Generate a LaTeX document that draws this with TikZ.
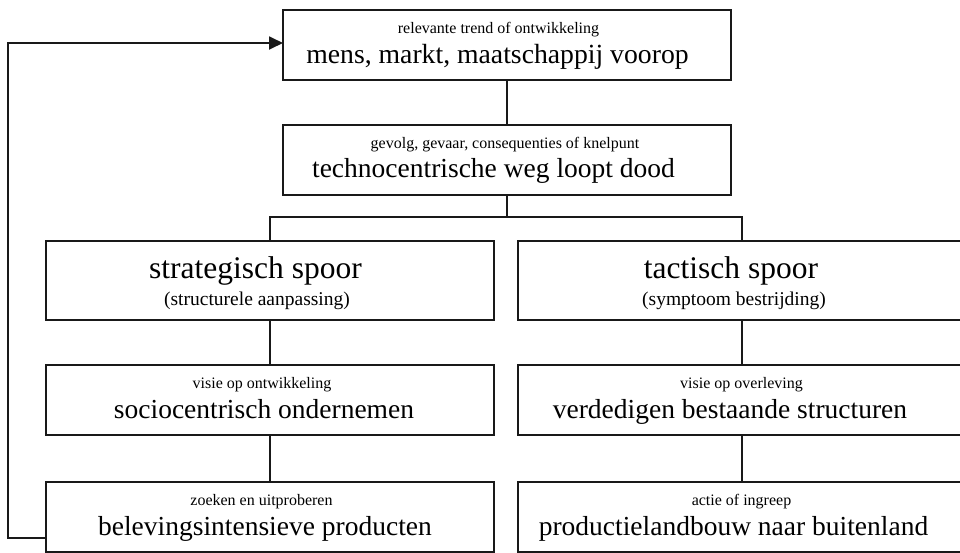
\documentclass[tikz,border=0pt]{standalone}
\usepackage{fontspec}
\setmainfont{Liberation Serif}
\usepackage{tikz}
\usetikzlibrary{positioning,arrows.meta}

\begin{document}
\begin{tikzpicture}[
    x=1pt, y=1pt,
    stage box/.style={
        draw=black!90,
        line width=1.8pt,
        minimum width=448pt,
        minimum height=70pt,
        inner sep=0pt,
        outer sep=0pt
    },
    track box/.style={
        stage box,
        minimum height=79pt
    },
    small line/.style={font=\fontsize{16}{19}\selectfont, anchor=base, inner sep=0pt},
    main line/.style={font=\fontsize{27.5}{33}\selectfont, anchor=base, inner sep=0pt},
    track title/.style={font=\fontsize{31.5}{37}\selectfont, anchor=base, inner sep=0pt},
    track note/.style={font=\fontsize{19.5}{23}\selectfont, anchor=base, inner sep=0pt},
    link/.style={draw=black!90, line width=1.8pt}
]

% Picture frame
\clip (0,0) rectangle (960,-552);

% === TREND AND CONSEQUENCE ===
\node[stage box] (trend) at (507,-45) {};
\node[small line] at ([xshift=-8.5pt,yshift=-23pt]trend.north) {relevante trend of ontwikkeling};
\node[main line, font=\fontsize{27.7}{33}\selectfont] at ([xshift=-9.5pt,yshift=-53pt]trend.north) {mens, markt, maatschappij voorop};

\node[stage box, below=45pt of trend] (gevolg) {};
\node[small line] at ([xshift=-2pt,yshift=-23pt]gevolg.north) {gevolg, gevaar, consequenties of knelpunt};
\node[main line] at ([xshift=-13.5pt,yshift=-52pt]gevolg.north) {technocentrische weg loopt dood};

% === TWO TRACKS ===
\node[track box] (strat) at (270,-280.5) {};
\node[track title] at ([xshift=-14.5pt,yshift=-37pt]strat.north) {strategisch spoor};
\node[track note] at ([xshift=-13pt,yshift=-64pt]strat.north) {(structurele aanpassing)};

\node[track box] (tact) at (742,-280.5) {};
\node[track title] at ([xshift=-11pt,yshift=-37pt]tact.north) {tactisch spoor};
\node[track note] at ([xshift=-8pt,yshift=-64pt]tact.north) {(symptoom bestrijding)};

% Strategic column
\node[stage box, below=45pt of strat] (ontw) {};
\node[small line] at ([xshift=-8pt,yshift=-23pt]ontw.north) {visie op ontwikkeling};
\node[main line] at ([xshift=-6pt,yshift=-53pt]ontw.north) {sociocentrisch ondernemen};

\node[stage box, below=47pt of ontw] (zoeken) {};
\node[small line] at ([xshift=-8.5pt,yshift=-23pt]zoeken.north) {zoeken en uitproberen};
\node[main line] at ([xshift=-5pt,yshift=-53pt]zoeken.north) {belevingsintensieve producten};

% Tactical column
\node[stage box, below=45pt of tact] (overl) {};
\node[small line] at ([xshift=-0.5pt,yshift=-23pt]overl.north) {visie op overleving};
\node[main line] at ([xshift=-12pt,yshift=-53pt]overl.north) {verdedigen bestaande structuren};

\node[stage box, below=47pt of overl] (actie) {};
\node[small line] at ([xshift=-0.5pt,yshift=-23pt]actie.north) {actie of ingreep};
\node[main line] at ([xshift=-8.5pt,yshift=-53pt]actie.north) {productielandbouw naar buitenland};

% === CONNECTORS ===
\draw[link] (trend) -- (gevolg);
\draw[link] (gevolg.south) -- ++(0,-22pt) coordinate (split);
\draw[link] (strat.north) |- (split) -| (tact.north);
\draw[link] (strat) -- (ontw);
\draw[link] (ontw) -- (zoeken);
\draw[link] (tact) -- (overl);
\draw[link] (overl) -- (actie);

% Feedback loop
\draw[link, -{Triangle[length=14pt,width=13pt]}] ([yshift=-21pt]zoeken.west) -- ++(-38pt,0) |- ([yshift=2pt]trend.west);

\end{tikzpicture}
\end{document}
